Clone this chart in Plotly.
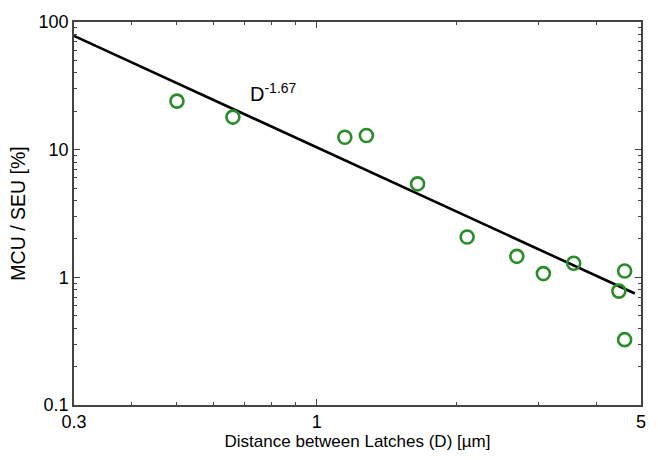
import numpy as np
import plotly.graph_objects as go

# Measured data
distance_um = [0.50, 0.66, 1.15, 1.28, 1.65, 2.11, 2.70, 3.08, 3.58, 4.48, 4.61, 4.61]
mcu_seu_pct = [24.0, 18.0, 12.5, 12.9, 5.4, 2.07, 1.46, 1.07, 1.29, 0.78, 1.12, 0.325]

# Power-law fit  y = A * D^-1.67
fit_coef = 10.43
fit_exp = -1.67
fit_x = [0.3, 0.5, 0.7, 1.0, 1.5, 2.0, 3.0, 4.0, 4.85]
fit_y = [fit_coef * x ** fit_exp for x in fit_x]

x_ticks = [0.3, 1, 5]
x_tick_text = ["0.3", "1", "5"]
y_ticks = [0.1, 1, 10, 100]
y_tick_text = ["0.1", "1", "10", "100"]
x_minor = [0.4, 0.5, 0.6, 0.7, 0.8, 0.9, 2, 3, 4]
y_minor = [v * m for m in (0.1, 1, 10) for v in range(2, 10)]

FONT = "Liberation Sans, Arial, Helvetica, sans-serif"

fig = go.Figure()
fig.add_trace(go.Scatter(
    x=fit_x, y=fit_y, mode="lines",
    line=dict(color="black", width=2.6),
    showlegend=False, hoverinfo="skip"))
fig.add_trace(go.Scatter(
    x=distance_um, y=mcu_seu_pct, mode="markers",
    marker=dict(symbol="circle-open", size=13, color="#2a8c2a",
                line=dict(width=2.6, color="#2a8c2a")),
    showlegend=False))

axis_common = dict(
    showgrid=False, zeroline=False,
    showline=True, linecolor="#444", linewidth=1.5, mirror="allticks",
    ticks="inside", ticklen=6, tickwidth=1, tickcolor="#444",
    tickfont=dict(family=FONT, size=18, color="black"),
)

fig.update_xaxes(
    type="log", range=[np.log10(0.3), np.log10(5)],
    tickvals=x_ticks, ticktext=x_tick_text,
    minor=dict(tickvals=x_minor, ticks="inside", ticklen=3, tickcolor="#444", showgrid=False),
    title=dict(text="Distance between Latches (D) [µm]", font=dict(family=FONT, size=17, color="black"), standoff=4),
    **axis_common)
fig.update_yaxes(
    type="log", range=[-1, 2],
    tickvals=y_ticks, ticktext=y_tick_text,
    minor=dict(tickvals=y_minor, ticks="inside", ticklen=3, tickcolor="#444", showgrid=False),
    title=dict(text="MCU / SEU [%]", font=dict(family=FONT, size=19.5, color="black"), standoff=8),
    **axis_common)

fig.add_annotation(
    x=0.307, y=0.815, xref="paper", yref="paper",
    text="D<sup>-1.67</sup>", showarrow=False,
    xanchor="left", yanchor="middle",
    font=dict(family=FONT, size=20, color="black"))

fig.update_layout(
    width=658, height=460,
    margin=dict(l=74, r=15, t=20, b=53),
    paper_bgcolor="white", plot_bgcolor="white",
    font=dict(family=FONT),
)

fig.write_html("out.html")
